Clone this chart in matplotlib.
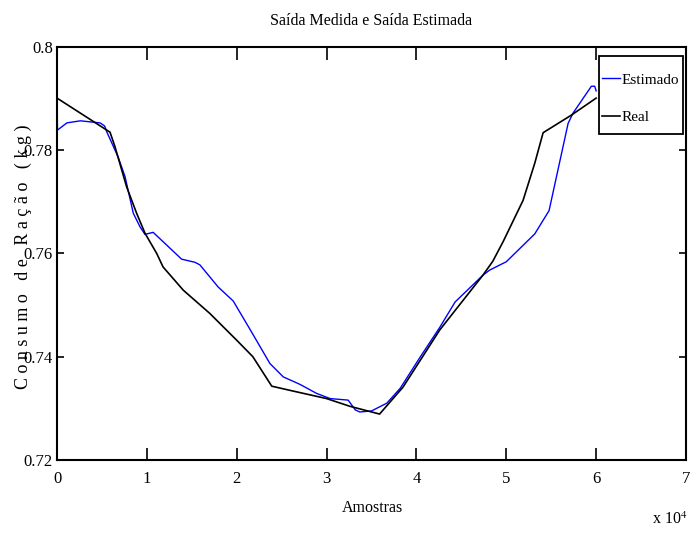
import matplotlib
matplotlib.use("Agg")
import matplotlib.pyplot as plt
from matplotlib.patches import Rectangle
from matplotlib.ticker import FormatStrFormatter

# amostras em unidades de 10^4
real_x = [0.0, 0.59, 0.645, 0.775, 0.886, 0.98, 1.11, 1.18, 1.405, 1.70, 2.00, 2.18, 2.39,
          2.59, 3.0, 3.26, 3.59, 3.85, 4.26, 4.74, 4.85, 4.965, 5.187, 5.317, 5.41, 5.724, 6.0]
real_y = [0.7901, 0.7835, 0.7807, 0.7729, 0.7678, 0.7639, 0.7600, 0.7574, 0.7529, 0.7484,
          0.7432, 0.7400, 0.7343, 0.7335, 0.7319, 0.7304, 0.7289, 0.7341, 0.7452, 0.7558,
          0.7585, 0.7623, 0.7703, 0.7775, 0.7834, 0.7868, 0.7901]

est_x = [0.0, 0.005, 0.11, 0.26, 0.48, 0.53, 0.553, 0.68, 0.757, 0.849, 0.923, 0.979, 1.07,
         1.387, 1.535, 1.59, 1.794, 1.961, 2.165, 2.369, 2.518, 2.685, 2.72, 2.889, 3.04,
         3.24, 3.32, 3.37, 3.50, 3.67, 3.82, 4.04, 4.26, 4.43, 4.74, 4.816, 5.0, 5.317,
         5.476, 5.688, 5.743, 5.947, 5.984, 6.0]
est_y = [0.7924, 0.7839, 0.7853, 0.7857, 0.7853, 0.7847, 0.7836, 0.7787, 0.7749, 0.7678,
         0.7652, 0.7637, 0.7641, 0.7589, 0.7583, 0.7578, 0.7535, 0.7508, 0.7448, 0.7387,
         0.7361, 0.7348, 0.7345, 0.7329, 0.7319, 0.7316, 0.7297, 0.7293, 0.7295, 0.7310,
         0.7339, 0.7399, 0.7457, 0.7506, 0.7558, 0.7568, 0.7584, 0.7638, 0.7683, 0.7852,
         0.7872, 0.7924, 0.7924, 0.7915]

x_ticks = [0, 1, 2, 3, 4, 5, 6, 7]
y_ticks = [0.72, 0.74, 0.76, 0.78, 0.80]

plt.rcParams["font.family"] = ["Liberation Serif", "DejaVu Serif"]
plt.rcParams["mathtext.fontset"] = "stix"

fig = plt.figure(figsize=(6.91, 5.35), dpi=100)
ax = fig.add_axes([57 / 691, 75 / 535, 629 / 691, 413 / 535])

ax.plot(est_x, est_y, color="#0000ff", linewidth=1.0, label="Estimado")
ax.plot(real_x, real_y, color="black", linewidth=1.2, label="Real")

ax.set_xlim(0, 7)
ax.set_ylim(0.72, 0.80)
ax.set_xticks(x_ticks)
ax.set_yticks(y_ticks)
ax.yaxis.set_major_formatter(FormatStrFormatter("%g"))
ax.tick_params(axis="x", direction="in", length=9, width=1.2, top=True, labelsize=12, pad=8)
ax.tick_params(axis="y", direction="in", length=5, width=1.2, right=True, labelsize=12, pad=3)
for s in ax.spines.values():
    s.set_linewidth(1.5)

ax.set_title("Saída Medida e Saída Estimada", fontsize=11.5, pad=16)
fig.text(372 / 691, 1 - 508 / 535, "Amostras", ha="center", va="center", fontsize=11.5)
fig.text(670 / 691, 1 - 520 / 535, r"x 10$^4$", ha="center", va="center", fontsize=11.5)
fig.text(23 / 691, 1 - 257 / 535, "C o n s u m o   d e   R a ç ã o   ( k g )",
         rotation=90, ha="center", va="center", fontsize=13)

# caixa da legenda no estilo do MATLAB (mais alta que a do matplotlib)
ax.add_patch(Rectangle((599 / 691, 1 - 134 / 535), 84 / 691, 78 / 535,
                       transform=fig.transFigure, facecolor="white", edgecolor="black",
                       linewidth=1.3, zorder=4, clip_on=False))
leg = ax.legend(loc="upper right", bbox_to_anchor=(683 / 691, 1 - 69 / 535),
                bbox_transform=fig.transFigure, borderaxespad=0, frameon=False,
                fontsize=11, handlelength=1.2, handletextpad=0.12, borderpad=0.25,
                labelspacing=1.58)
leg.set_zorder(5)

fig.savefig("out.png", dpi=100)
